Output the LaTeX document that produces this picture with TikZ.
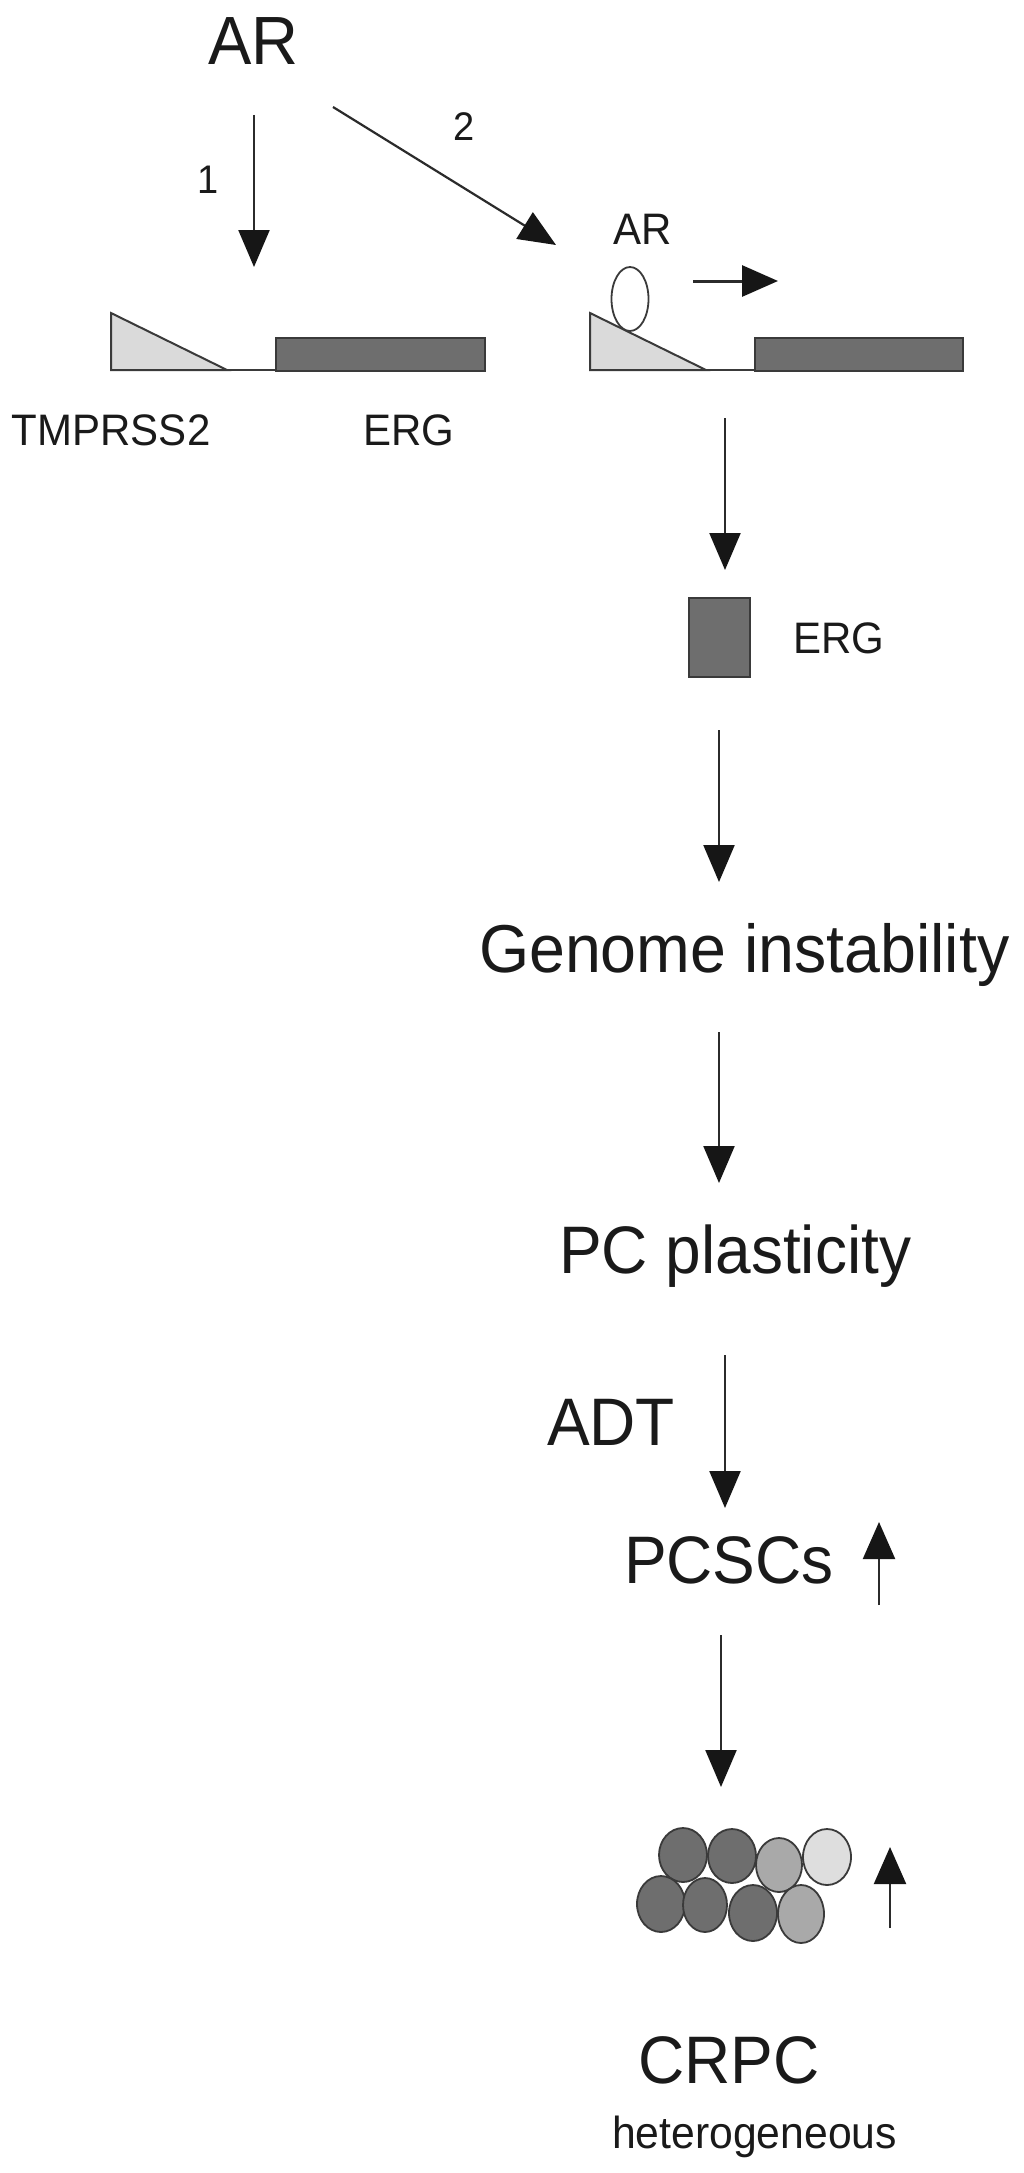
\documentclass[tikz,border=0pt]{standalone}
\usepackage{fontspec}
\setmainfont{Liberation Sans}
\usepackage{graphicx}
\usetikzlibrary{arrows.meta,shapes.geometric}
\definecolor{txt}{HTML}{1A1A1A}
\definecolor{lin}{HTML}{2B2B2B}
\definecolor{tip}{HTML}{161616}
\definecolor{edgec}{HTML}{3A3A3A}
\definecolor{lgray}{HTML}{DADADA}
\definecolor{dgray}{HTML}{6E6E6E}
\definecolor{mgray}{HTML}{A9A9A9}
\definecolor{pgray}{HTML}{DEDEDE}
\newcommand\vst[1]{\scalebox{1}[1.05]{#1}}
\tikzset{
  lbl/.style={inner sep=0pt, outer sep=0pt, anchor=base west, text=txt},
  bigtxt/.style={lbl, font=\fontsize{64}{70}\selectfont},
  midtxt/.style={lbl, font=\fontsize{42}{48}\selectfont},
  numtxt/.style={inner sep=0pt, outer sep=0pt, anchor=base, text=txt, font=\fontsize{38}{42}\selectfont},
  flow/.style={draw=lin, line width=2.2pt, -{Triangle[length=37pt,width=31pt,color=tip]}},
  genetri/.style={fill=lgray, draw=edgec, line width=2pt, line join=miter},
  genebox/.style={fill=dgray, draw=edgec, line width=2pt},
  geneline/.style={draw=edgec, line width=2pt},
  cell/.style={draw=edgec, line width=1.8pt},
}
\begin{document}
\begin{tikzpicture}[x=1pt, y=-1pt]
\useasboundingbox (0,0) rectangle (1024,2173);
\fill[white] (0,0) rectangle (1024,2173);

% --- top labels
\node[lbl, font=\fontsize{65}{72}\selectfont] (ar) at (208,65) {\vst{AR}};
\node[numtxt] (n1) at (208,193) {\vst{1}};
\node[numtxt] (n2) at (464,140) {\vst{2}};

% --- arrows from AR
\coordinate (a1s) at (254,115);
\coordinate (a1e) at (254,267);
\coordinate (a2s) at (333,107);
\coordinate (a2e) at (556,245);
\draw[flow] (a1s) -- (a1e);
\draw[flow] (a2s) -- (a2e);

% --- left gene (fusion, no AR)
\draw[genetri] (111,370) -- (111,313) -- (227,370) -- cycle;
\draw[geneline] (227,370) -- (276,370);
\draw[genebox] (276,338) rectangle (485,371);
\node[midtxt] (tmp) at (12,445) {\vst{TMPRSS2}};
\node[midtxt] (erg1) at (363,445) {\vst{ERG}};

% --- right gene with AR bound
\draw[genetri] (590,370) -- (590,313) -- (706,370) -- cycle;
\draw[geneline] (706,370) -- (755,370);
\draw[genebox] (755,338) rectangle (963,371);
\node[draw=edgec, fill=white, line width=1.8pt, ellipse, minimum width=37pt, minimum height=64pt, inner sep=0pt] (arb) at (630,299) {};
\node[midtxt] (ar2) at (613,244) {\vst{AR}};
\coordinate (txs) at (693,281);
\coordinate (txe) at (778,281);
\draw[draw=lin, line width=3pt, -{Triangle[length=36pt,width=31pt,color=tip]}] (txs) -- (txe);

% --- ERG protein
\coordinate (a3s) at (725,418);
\coordinate (a3e) at (725,570);
\draw[flow] (a3s) -- (a3e);
\node[genebox, minimum width=61pt, minimum height=79pt, inner sep=0pt] (ergbox) at (719.5,637.5) {};
\node[midtxt] (erg2) at (793,653) {\vst{ERG}};

% --- chain
\coordinate (a4s) at (719,730);
\coordinate (a4e) at (719,882);
\draw[flow] (a4s) -- (a4e);
\node[lbl, font=\fontsize{64.5}{70}\selectfont] (genome) at (479,972) {\vst{Genome instability}};
\coordinate (a5s) at (719,1032);
\coordinate (a5e) at (719,1183);
\draw[flow] (a5s) -- (a5e);
\node[bigtxt] (pcp) at (559,1273) {\vst{PC plasticity}};
\coordinate (a6s) at (725,1355);
\coordinate (a6e) at (725,1508);
\draw[flow] (a6s) -- (a6e);
\node[bigtxt] (adt) at (547,1445) {\vst{ADT}};
\node[bigtxt] (pcsc) at (624,1583) {\vst{PCSCs}};
\coordinate (u1s) at (879,1605);
\coordinate (u1e) at (879,1522);
\draw[draw=lin, line width=2.2pt, -{Triangle[length=37pt,width=32pt,color=tip]}] (u1s) -- (u1e);
\coordinate (a7s) at (721,1635);
\coordinate (a7e) at (721,1787);
\draw[flow] (a7s) -- (a7e);

% --- cell cluster
\draw[cell, fill=dgray] (683,1855) ellipse [x radius=24, y radius=27];
\draw[cell, fill=dgray] (732,1856) ellipse [x radius=24, y radius=27];
\draw[cell, fill=mgray] (779,1865) ellipse [x radius=23, y radius=27];
\draw[cell, fill=pgray] (827,1857) ellipse [x radius=24, y radius=28];
\draw[cell, fill=dgray] (661,1904) ellipse [x radius=24, y radius=28];
\draw[cell, fill=dgray] (705,1905) ellipse [x radius=22, y radius=27];
\draw[cell, fill=dgray] (753,1913) ellipse [x radius=24, y radius=28];
\draw[cell, fill=mgray] (801,1914) ellipse [x radius=23, y radius=29];
\coordinate (u2s) at (890,1928);
\coordinate (u2e) at (890,1847);
\draw[draw=lin, line width=2.2pt, -{Triangle[length=37pt,width=32pt,color=tip]}] (u2s) -- (u2e);

% --- CRPC
\node[bigtxt] (crpc) at (638,2083) {\vst{CRPC}};
\node[lbl, font=\fontsize{42.7}{48}\selectfont] (het) at (612,2148) {\vst{heterogeneous}};
\end{tikzpicture}
\end{document}
